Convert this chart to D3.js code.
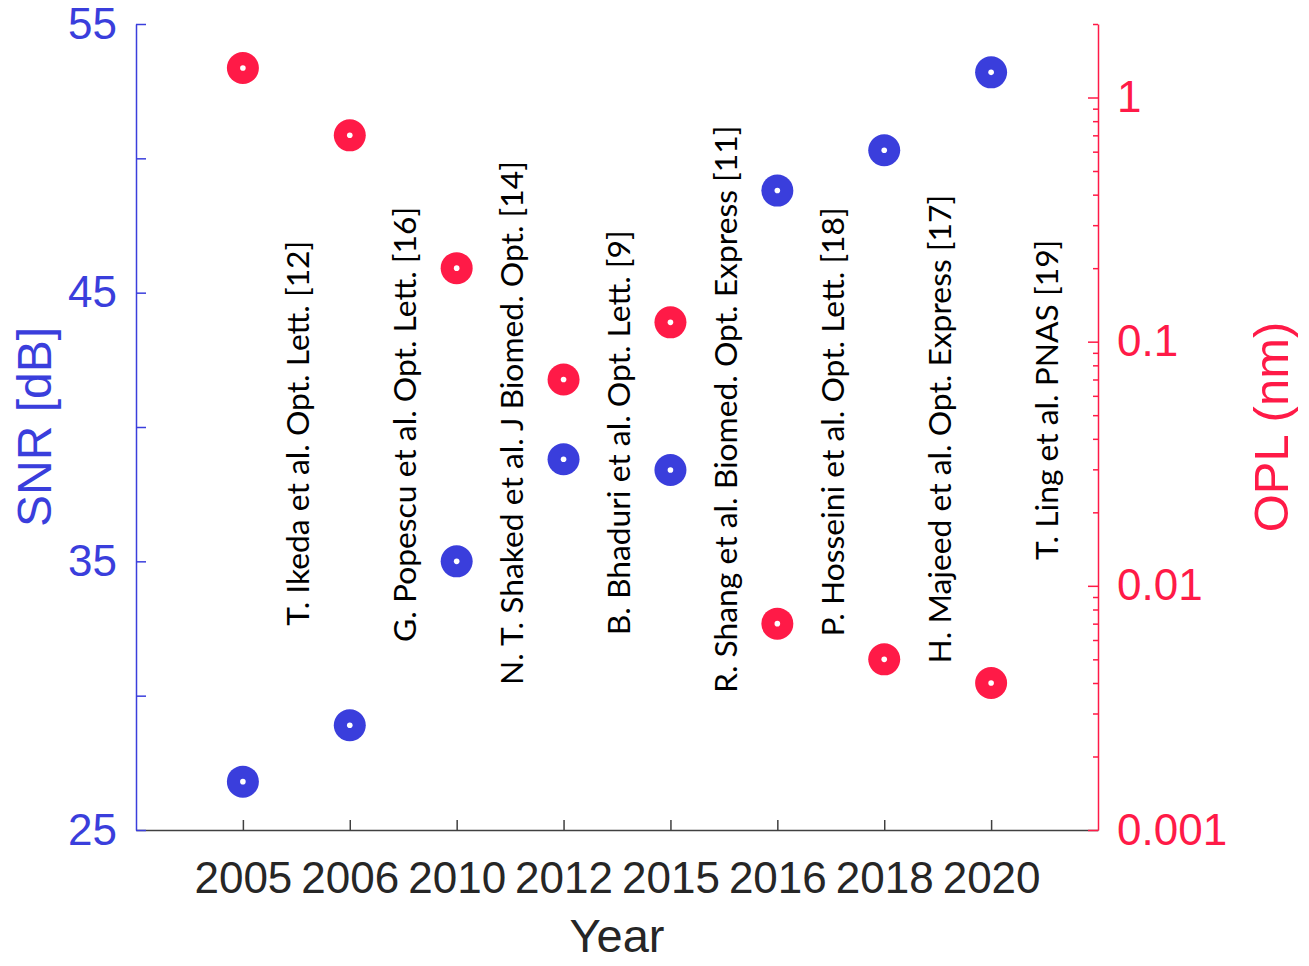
<!DOCTYPE html>
<html>
<head>
<meta charset="utf-8">
<script src="https://cdn.jsdelivr.net/npm/d3@7"></script>
<style>
  html, body { margin: 0; padding: 0; background: #fff; }
  svg { display: block; }
</style>
</head>
<body>
<svg id="chart" width="1309" height="966"></svg>
<script>
// Publication years (categorical x axis)
const years = ["2005", "2006", "2010", "2012", "2015", "2016", "2018", "2020"];
// Signal-to-noise ratio per work, dB (left axis)
const snrValues = [26.8, 28.9, 35.0, 38.8, 38.4, 48.8, 50.3, 53.2];
// Optical path length sensitivity per work, nm (right axis, log)
const oplValues = [1.32, 0.70, 0.20, 0.07, 0.12, 0.007, 0.005, 0.004];
// Citation placed after each year's markers
const references = [
  "T. Ikeda et al. Opt. Lett. [12]",
  "G. Popescu et al. Opt. Lett. [16]",
  "N. T. Shaked et al. J Biomed. Opt. [14]",
  "B. Bhaduri et al. Opt. Lett. [9]",
  "R. Shang et al. Biomed. Opt. Express [11]",
  "P. Hosseini et al. Opt. Lett. [18]",
  "H. Majeed et al. Opt. Express [17]",
  "T. Ling et al. PNAS [19]"
];
// SNR level at which each citation text starts
const referenceStart = [32.6, 32.0, 30.4, 32.25, 30.1, 32.2, 31.2, 35.05];
// Axis tick labels
const snrTickLabels = [25, 35, 45, 55];
const oplTickLabels = [0.001, 0.01, 0.1, 1];

const BLUE = "#3a3edc";
const RED = "#ff1a47";
const GRAY = "#404040";
const TEXT_DARK = "#262626";

const svg = d3.select("#chart");
const plotLeft = 136, plotRight = 1098, plotTop = 24, plotBottom = 830;

const x = d3.scalePoint().domain(years).range([plotLeft, plotRight]).padding(1);
const ySnr = d3.scaleLinear().domain([25, 55]).range([plotBottom, plotTop]);
const yOpl = d3.scaleLog().domain([0.001, 2]).range([plotBottom, plotTop]);

// ---- bottom axis (years)
const xAxis = svg.append("g")
  .attr("transform", `translate(0,${plotBottom})`)
  .call(d3.axisBottom(x).tickSizeInner(-10).tickSizeOuter(0).tickPadding(32));
xAxis.select(".domain").attr("stroke", GRAY).attr("stroke-width", 1.5);
xAxis.selectAll(".tick line").attr("stroke", GRAY).attr("stroke-width", 1.5);
xAxis.selectAll(".tick text")
  .attr("fill", TEXT_DARK)
  .style("font-family", "'Liberation Sans', Arial, sans-serif")
  .style("font-size", "44px");

// ---- left axis (SNR): ticks every 5 dB, labels every 10 dB
const snrAllTicks = d3.range(snrTickLabels[0], snrTickLabels[snrTickLabels.length - 1] + 1, 5);
const yLeft = svg.append("g")
  .attr("transform", `translate(${plotLeft},0)`)
  .call(d3.axisLeft(ySnr)
    .tickValues(snrAllTicks)
    .tickFormat(d => snrTickLabels.includes(d) ? d3.format("d")(d) : "")
    .tickSizeInner(-10).tickSizeOuter(0).tickPadding(19));
yLeft.select(".domain").attr("stroke", BLUE).attr("stroke-width", 1.5);
yLeft.selectAll(".tick line").attr("stroke", BLUE).attr("stroke-width", 1.5);
yLeft.selectAll(".tick text")
  .attr("fill", BLUE)
  .style("font-family", "'Liberation Sans', Arial, sans-serif")
  .style("font-size", "44px");

// ---- right axis (OPL, log): minor ticks 2..9 per decade, labelled decades
const oplMinor = [];
oplTickLabels.forEach(dec => {
  for (let m = 2; m <= 9; m++) {
    const v = dec * m;
    if (v <= yOpl.domain()[1] + 1e-12) oplMinor.push(v);
  }
});
const yRightMinor = svg.append("g")
  .attr("transform", `translate(${plotRight},0)`)
  .call(d3.axisRight(yOpl).tickValues(oplMinor).tickFormat("")
    .tickSizeInner(-5).tickSizeOuter(0));
yRightMinor.select(".domain").attr("stroke", RED).attr("stroke-width", 1.5);
yRightMinor.selectAll(".tick line").attr("stroke", RED).attr("stroke-width", 1.5);

const yRight = svg.append("g")
  .attr("transform", `translate(${plotRight},0)`)
  .call(d3.axisRight(yOpl).tickValues(oplTickLabels)
    .tickFormat(d => String(d))
    .tickSizeInner(-10).tickSizeOuter(0).tickPadding(19));
yRight.select(".domain").remove();
yRight.selectAll(".tick line").attr("stroke", RED).attr("stroke-width", 1.5);
yRight.selectAll(".tick text")
  .attr("fill", RED)
  .style("font-family", "'Liberation Sans', Arial, sans-serif")
  .style("font-size", "44px");

// ---- axis titles
svg.append("text")
  .attr("x", (plotLeft + plotRight) / 2).attr("y", 952)
  .attr("text-anchor", "middle")
  .attr("fill", TEXT_DARK)
  .style("font-family", "'Liberation Sans', Arial, sans-serif")
  .style("font-size", "47px")
  .text("Year");

svg.append("text")
  .attr("transform", `translate(51,${(plotTop + plotBottom) / 2}) rotate(-90)`)
  .attr("text-anchor", "middle")
  .attr("fill", BLUE)
  .style("font-family", "'Liberation Sans', Arial, sans-serif")
  .style("font-size", "48px")
  .text("SNR [dB]");

svg.append("text")
  .attr("transform", `translate(1288,${(plotTop + plotBottom) / 2}) rotate(-90)`)
  .attr("text-anchor", "middle")
  .attr("fill", RED)
  .style("font-family", "'Liberation Sans', Arial, sans-serif")
  .style("font-size", "49px")
  .text("OPL (nm)");

// ---- citations, rotated, between year columns
const step = x.step();
const refs = svg.append("g");
references.forEach((ref, i) => {
  const cx = x(years[i]) + step / 2;
  refs.append("text")
    .attr("transform", `translate(${cx},${ySnr(referenceStart[i])}) rotate(-90) scale(1.06,1)`)
    .attr("y", 13)
    .attr("text-anchor", "start")
    .attr("fill", "#000")
    .style("font-family", "Lato, 'Open Sans', sans-serif")
    .style("font-size", "30px")
    .text(ref);
});

// ---- markers: filled disc with a small white centre
function drawSeries(values, yScale, color) {
  const g = svg.append("g");
  const pts = g.selectAll("g").data(values).join("g")
    .attr("transform", (d, i) => `translate(${x(years[i])},${yScale(d)})`);
  pts.append("circle").attr("r", 16).attr("fill", color);
  pts.append("circle").attr("r", 2.8).attr("fill", "#fff");
}
drawSeries(snrValues, ySnr, BLUE);
drawSeries(oplValues, yOpl, RED);
</script>
</body>
</html>
